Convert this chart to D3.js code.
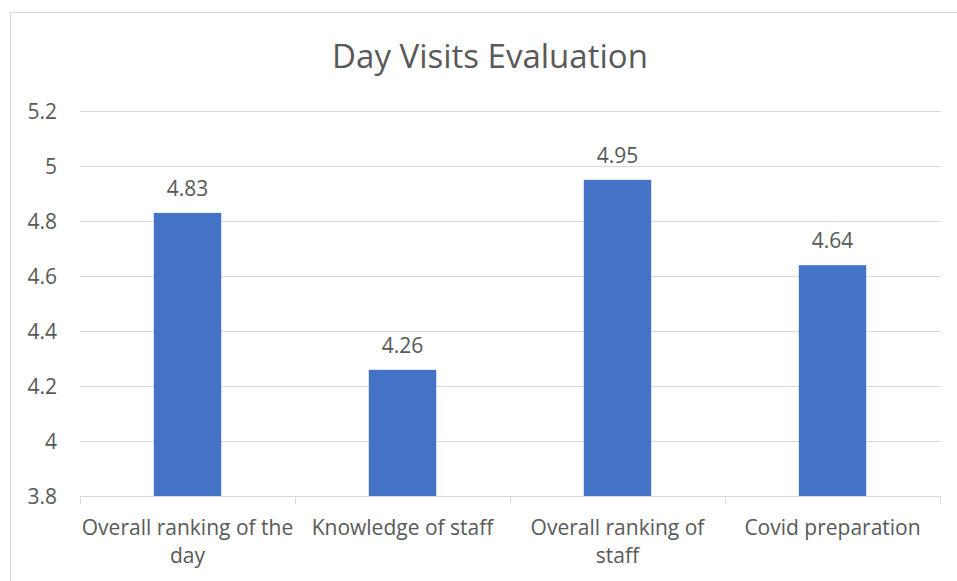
<!DOCTYPE html>
<html><head><meta charset="utf-8">
<script src="https://cdn.jsdelivr.net/npm/d3@7"></script>
<style>
html,body{margin:0;padding:0;background:#fff;}
text{font-family:"Open Sans",Lato,sans-serif;fill:#595959;}
</style></head>
<body><svg id="c" width="957" height="581"></svg>
<script>
const title = "Day Visits Evaluation";
const categories = ["Overall ranking of the day","Knowledge of staff","Overall ranking of staff","Covid preparation"];
const values = [4.83, 4.26, 4.95, 4.64];
const yTicks = [3.8, 4, 4.2, 4.4, 4.6, 4.8, 5, 5.2];
const yDomain = [3.8, 5.2];

const FS = 21;
const svg = d3.select("#c");
svg.append("rect").attr("x",10.5).attr("y",12.5).attr("width",960).attr("height",600)
  .attr("fill","#fff").attr("stroke","#d9d9d9").attr("stroke-width",1);

const x = d3.scaleBand().domain(categories).range([80,940]).paddingInner(0.6865).paddingOuter(0.34325);
const y = d3.scaleLinear().domain(yDomain).range([496.5,111]);

svg.append("text").attr("x",490).attr("y",68).attr("text-anchor","middle")
  .style("font-size","33px").text(title);

// gridlines
svg.append("g").selectAll("line").data(yTicks.slice(1)).join("line")
  .attr("x1",80).attr("x2",941).attr("y1",d=>Math.round(y(d))+0.5).attr("y2",d=>Math.round(y(d))+0.5)
  .attr("stroke","#d9d9d9").attr("stroke-width",1);

// y labels
const yAxis = d3.axisLeft(y).tickValues(yTicks).tickSize(0).tickPadding(0).tickFormat(d=>d3.format("")(d));
const gy = svg.append("g").attr("transform","translate(57,0)").call(yAxis);
gy.select(".domain").remove();
gy.selectAll("text").style("font-size",FS+"px").attr("fill","#595959").attr("dy","0.35em");

// bars
svg.append("g").selectAll("rect").data(values).join("rect")
  .attr("x",(d,i)=>x(categories[i])).attr("width",x.bandwidth())
  .attr("y",d=>y(d)).attr("height",d=>y(yDomain[0])-y(d)).attr("fill","#4472c4");

// data labels
svg.append("g").selectAll("text").data(values).join("text")
  .attr("x",(d,i)=>x(categories[i])+x.bandwidth()/2).attr("y",d=>y(d)-17)
  .attr("text-anchor","middle").style("font-size",FS+"px").text(d=>d3.format(".2f")(d));

// x axis
const step = (940-80)/categories.length;
const gx = svg.append("g");
gx.append("line").attr("x1",80).attr("x2",941).attr("y1",496.5).attr("y2",496.5).attr("stroke","#d9d9d9");
d3.range(categories.length+1).forEach(i=>{
  const xx = Math.round(80+i*step)+0.5;
  gx.append("line").attr("x1",xx).attr("x2",xx).attr("y1",496.5).attr("y2",504).attr("stroke","#d9d9d9");
});
categories.forEach((c,i)=>{
  const cx = x(c)+x.bandwidth()/2;
  const t = gx.append("text").attr("text-anchor","middle").style("font-size",FS+"px");
  const words = c.split(" ");
  let lines=[], cur=[];
  const probe = svg.append("text").style("font-size",FS+"px");
  words.forEach(w=>{
    const test=[...cur,w].join(" ");
    probe.text(test);
    if(probe.node().getComputedTextLength()>step && cur.length){lines.push(cur.join(" "));cur=[w];}
    else cur.push(w);
  });
  lines.push(cur.join(" "));
  probe.remove();
  lines.forEach((l,k)=>t.append("tspan").attr("x",cx).attr("y",535+k*28).text(l));
});
</script></body></html>
